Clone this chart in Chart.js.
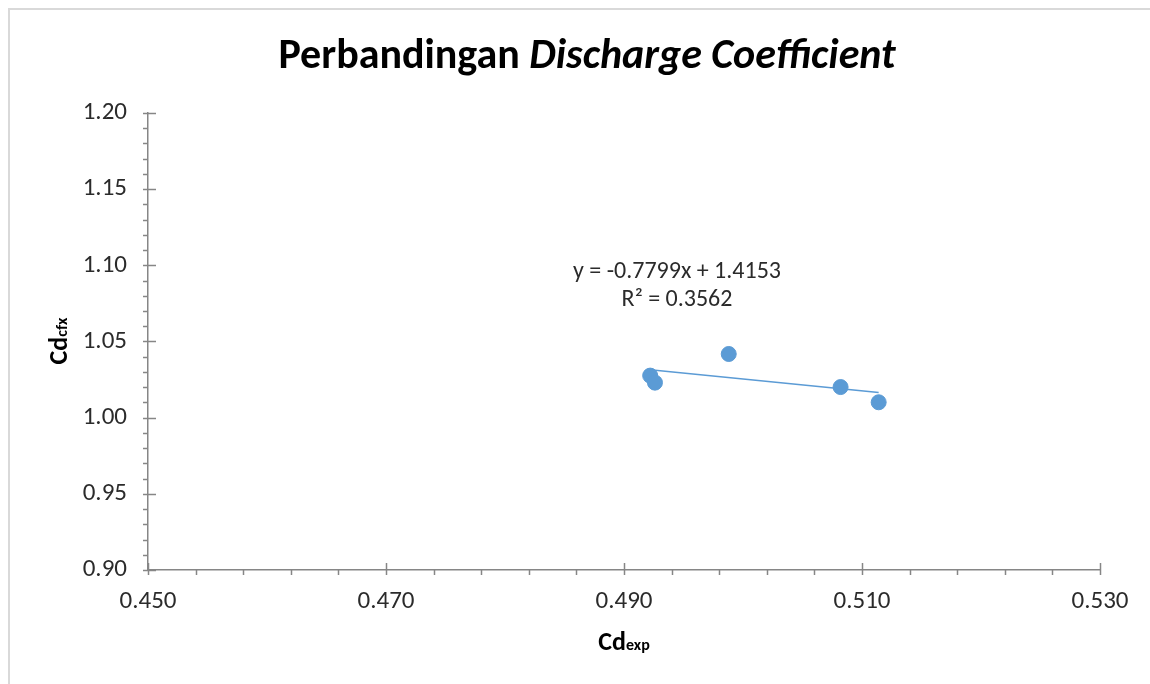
<!DOCTYPE html>
<html>
<head>
<meta charset="utf-8">
<script src="https://cdn.jsdelivr.net/npm/chart.js@4.4.1/dist/chart.umd.min.js"></script>
<style>
html,body{margin:0;padding:0;background:#fff;}
#wrap{position:relative;width:1150px;height:684px;}
</style>
</head>
<body>
<div id="wrap"><canvas id="c" width="1150" height="684"></canvas></div>
<script>
// ---- data ----
const cdExp = [0.4922, 0.4926, 0.4988, 0.5082, 0.5114];
const cdCfx = [1.0276, 1.0230, 1.0418, 1.0201, 1.0101];
const trendX = [0.4922, 0.5114];
const trendY = [1.0314, 1.0165];
const xTicks = [0.450, 0.470, 0.490, 0.510, 0.530];
const yTicks = [0.90, 0.95, 1.00, 1.05, 1.10, 1.15, 1.20];
const xMinorStep = 0.004;
const yMinorStep = 0.01;
const titleParts = ["Perbandingan ", "Discharge Coefficient"];
const eqLines = ["y = -0.7799x + 1.4153", "R² = 0.3562"];
const xTitle = ["Cd", "exp"];
const yTitle = ["Cd", "cfx"];

const FONT = 'Carlito, Calibri, "Open Sans", sans-serif';
const AXIS = '#868686';
const TXT = '#2b2b2b';
const BLUE = '#5B9BD5';

const points = cdExp.map((x, i) => ({x: x, y: cdCfx[i]}));
const trend = trendX.map((x, i) => ({x: x, y: trendY[i]}));

const decor = {
  id: 'decor',
  beforeDraw(chart) {
    const ctx = chart.ctx;
    ctx.save();
    ctx.fillStyle = '#fff';
    ctx.fillRect(0, 0, chart.width, chart.height);
    ctx.strokeStyle = '#d9d9d9';
    ctx.lineWidth = 2;
    ctx.strokeRect(9, 9, 1300, 900);
    ctx.restore();
  },
  afterDraw(chart) {
    const ctx = chart.ctx;
    const xs = chart.scales.x, ys = chart.scales.y;
    const a = chart.chartArea;
    ctx.save();
    // ticks
    ctx.strokeStyle = AXIS;
    ctx.lineWidth = 1.5;
    ctx.beginPath();
    const xMin = xTicks[0], xMax = xTicks[xTicks.length - 1];
    const nx = Math.round((xMax - xMin) / xMinorStep);
    for (let i = 0; i <= nx; i++) {
      const v = xMin + i * xMinorStep;
      const px = Math.round(xs.getPixelForValue(v)) + 0.5;
      const major = (i % 5 === 0);
      ctx.moveTo(px, a.bottom + 5);
      ctx.lineTo(px, major ? a.bottom - 7 : a.bottom);
    }
    const yMin = yTicks[0], yMax = yTicks[yTicks.length - 1];
    const ny = Math.round((yMax - yMin) / yMinorStep);
    for (let i = 0; i <= ny; i++) {
      const v = yMin + i * yMinorStep;
      const py = Math.round(ys.getPixelForValue(v)) + 0.5;
      const major = (i % 5 === 0);
      ctx.moveTo(a.left - 5, py);
      ctx.lineTo(major ? a.left + 8 : a.left, py);
    }
    ctx.stroke();

    // title
    ctx.fillStyle = '#000';
    ctx.textBaseline = 'alphabetic';
    const f1 = 'bold 42px ' + FONT, f2 = 'italic bold 42px ' + FONT;
    ctx.font = f1; const w1 = ctx.measureText(titleParts[0]).width;
    ctx.font = f2; const w2 = ctx.measureText(titleParts[1]).width;
    const tx = 587 - (w1 + w2) / 2;
    ctx.font = f1; ctx.textAlign = 'left'; ctx.fillText(titleParts[0], tx, 68);
    ctx.font = f2; ctx.fillText(titleParts[1], tx + w1, 68);

    // equation
    ctx.fillStyle = TXT;
    ctx.font = '24px ' + FONT;
    ctx.textAlign = 'center';
    ctx.textBaseline = 'middle';
    ctx.fillText(eqLines[0], 677, 272);
    ctx.fillText(eqLines[1], 677, 300);

    // axis titles with subscripts
    function sub(parts, cx, cy, rot) {
      ctx.save();
      ctx.translate(cx, cy);
      if (rot) ctx.rotate(-Math.PI / 2);
      ctx.fillStyle = '#000';
      ctx.textBaseline = 'alphabetic';
      ctx.textAlign = 'left';
      ctx.font = 'bold 26px ' + FONT; const wa = ctx.measureText(parts[0]).width;
      ctx.font = 'bold 16px ' + FONT; const wb = ctx.measureText(parts[1]).width;
      const sx = -(wa + wb) / 2;
      ctx.font = 'bold 26px ' + FONT; ctx.fillText(parts[0], sx, 9);
      ctx.font = 'bold 16px ' + FONT; ctx.fillText(parts[1], sx + wa, 9);
      ctx.restore();
    }
    sub(xTitle, 624, 641, false);
    sub(yTitle, 58, 341, true);
    ctx.restore();
  }
};

new Chart(document.getElementById('c'), {
  type: 'scatter',
  data: {
    datasets: [
      {
        type: 'line',
        data: trend,
        borderColor: BLUE,
        borderWidth: 1.5,
        pointRadius: 0,
        fill: false,
        order: 2
      },
      {
        data: points,
        backgroundColor: BLUE,
        borderColor: BLUE,
        pointRadius: 7.5,
        pointHoverRadius: 7.5,
        order: 1
      }
    ]
  },
  plugins: [decor],
  options: {
    responsive: false,
    animation: false,
    events: [],
    layout: {padding: {left: 0, right: 50, top: 113, bottom: 0}},
    plugins: {legend: {display: false}, tooltip: {enabled: false}, title: {display: false}},
    scales: {
      x: {
        type: 'linear',
        min: xTicks[0], max: xTicks[xTicks.length - 1],
        afterFit(s) { s.height = 114; },
        afterBuildTicks(s) { s.ticks = xTicks.map(v => ({value: v})); },
        grid: {drawOnChartArea: false, drawTicks: false},
        border: {display: true, color: AXIS, width: 1.5},
        ticks: {
          padding: 17,
          color: TXT,
          font: {family: FONT, size: 25},
          maxRotation: 0,
          callback: v => Number(v).toFixed(3)
        }
      },
      y: {
        type: 'linear',
        min: yTicks[0], max: yTicks[yTicks.length - 1],
        afterFit(s) { s.width = 148; },
        afterBuildTicks(s) { s.ticks = yTicks.map(v => ({value: v})); },
        grid: {drawOnChartArea: false, drawTicks: false},
        border: {display: true, color: AXIS, width: 1.5},
        ticks: {
          padding: 21,
          color: TXT,
          font: {family: FONT, size: 25},
          callback: v => Number(v).toFixed(2)
        }
      }
    }
  }
});
</script>
</body>
</html>
